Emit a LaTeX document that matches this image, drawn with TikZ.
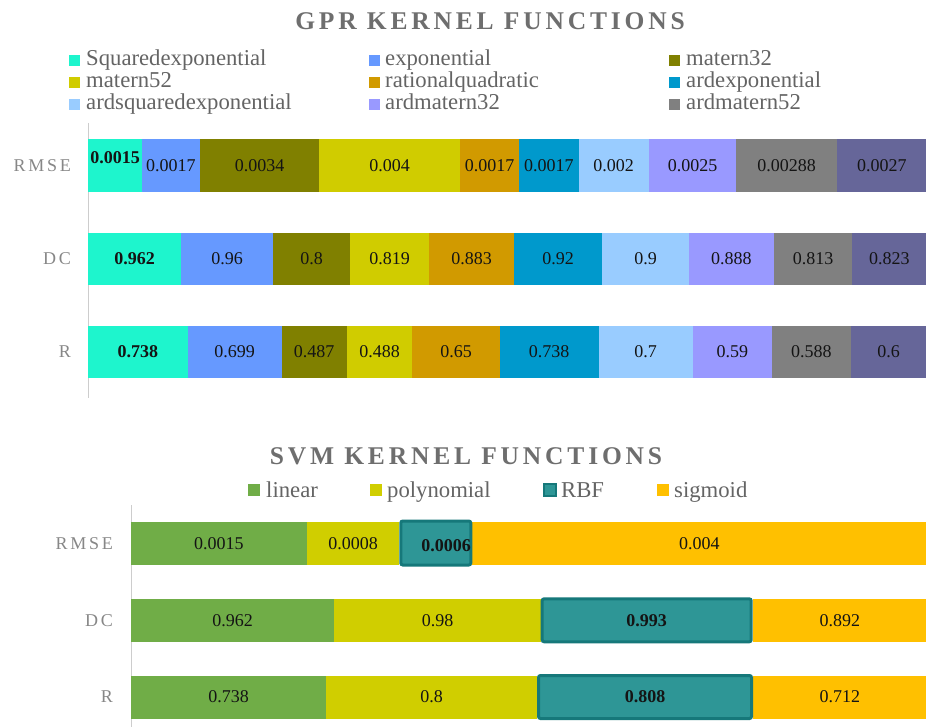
\documentclass[tikz,border=0pt]{standalone}
\usepackage{fontspec}
\setmainfont{Liberation Serif}
\newfontfamily\spacedfont[LetterSpace=15]{Liberation Serif}

% series colours
\definecolor{cSqexp}{RGB}{30,245,205}
\definecolor{cExp}{RGB}{102,153,255}
\definecolor{cMat32}{RGB}{128,128,0}
\definecolor{cMat52}{RGB}{208,204,0}
\definecolor{cRatq}{RGB}{209,154,0}
\definecolor{cArdexp}{RGB}{0,153,204}
\definecolor{cArdsq}{RGB}{153,204,255}
\definecolor{cArdm32}{RGB}{153,153,255}
\definecolor{cArdm52}{RGB}{128,128,128}
\definecolor{cLast}{RGB}{102,102,153}
\definecolor{cLinear}{RGB}{112,173,71}
\definecolor{cPoly}{RGB}{208,206,0}
\definecolor{cRBF}{RGB}{46,150,150}
\definecolor{cRBFedge}{RGB}{22,120,122}
\definecolor{cSigmoid}{RGB}{255,192,0}
% text and axis colours
\definecolor{cTitle}{RGB}{110,110,110}
\definecolor{cCat}{RGB}{135,135,135}
\definecolor{cLeg}{RGB}{100,100,100}
\definecolor{cAxis}{RGB}{205,205,205}
\definecolor{cVal}{RGB}{20,20,20}

\tikzset{
  charttitle/.style={font=\spacedfont\fontsize{25.5}{28}\selectfont\bfseries, text=cTitle, inner sep=0pt},
  catlabel/.style={font=\spacedfont\fontsize{18}{20}\selectfont, text=cCat, anchor=east, inner sep=0pt},
  legtext/.style={font=\fontsize{22.7}{24}\selectfont, text=cLeg, anchor=base west, inner sep=0pt},
  legsq/.style={minimum size=11pt, inner sep=0pt, outer sep=0pt, draw=none},
  seg/.style={anchor=west, inner sep=0pt, outer sep=0pt, draw=none, text=cVal,
              font=\fontsize{18}{20}\selectfont},
  valtext/.style={inner sep=0pt, text=cVal, font=\fontsize{18}{20}\selectfont},
  rbfbox/.style={seg, fill=cRBF, draw=cRBFedge, line width=3pt, rounded corners=2pt},
  axisline/.style={draw=cAxis, line width=1pt},
}

\begin{document}
\begin{tikzpicture}[x=1pt, y=-1pt]
\useasboundingbox (0,0) rectangle (926,727);

% ---------------- GPR chart ----------------
\node[charttitle] (gtitle) at (490,21) {GPR KERNEL FUNCTIONS};

% legend (three columns)
\foreach \sx/\tx/\by/\c/\t [count=\i] in {
  74.5/86/66/cSqexp/Squaredexponential,
  374.5/385/66/cExp/exponential,
  674.5/686/66/cMat32/matern32,
  74.5/86/88/cMat52/matern52,
  374.5/385/88/cRatq/rationalquadratic,
  674.5/686/88/cArdexp/ardexponential,
  74.5/86/110/cArdsq/ardsquaredexponential,
  374.5/385/110/cArdm32/ardmatern32,
  674.5/686/110/cArdm52/ardmatern52}
{
  \node[legsq, fill=\c] (gls\i) at (\sx,\by-5.5) {};
  \node[legtext] (glt\i) at (\tx,\by) {\t};
}

% value axis
\coordinate (gaxtop) at (88,123);
\coordinate (gaxbot) at (88,398);
\draw[axisline] (gaxtop) -- (gaxbot);

% RMSE row
\foreach \a/\b/\c/\v [count=\i] in {
  88/141.7/cSqexp/{},
  141.7/200/cExp/0.0017,
  200/319/cMat32/0.0034,
  319/460/cMat52/0.004,
  460/519/cRatq/0.0017,
  519/578.7/cArdexp/0.0017,
  578.7/648.7/cArdsq/0.002,
  648.7/736.3/cArdm32/0.0025,
  736.3/837/cArdm52/0.00288,
  837/926.5/cLast/0.0027}
{
  \node[seg, fill=\c, minimum width={(\b-\a)*1pt}, minimum height=53pt] (grmse\i) at (\a,165.5) {\v};
}
\node[valtext, font=\fontsize{18}{20}\selectfont\bfseries] (grmsebest) at (115,158) {0.0015};

% DC row
\foreach \a/\b/\c/\v [count=\i] in {
  88/181/cSqexp/\textbf{0.962},
  181/273.3/cExp/0.96,
  273.3/350/cMat32/0.8,
  350/429/cMat52/0.819,
  429/514/cRatq/0.883,
  514/602.3/cArdexp/0.92,
  602.3/688.7/cArdsq/0.9,
  688.7/774/cArdm32/0.888,
  774/852.3/cArdm52/0.813,
  852.3/926.5/cLast/0.823}
{
  \node[seg, fill=\c, minimum width={(\b-\a)*1pt}, minimum height=52pt] (gdc\i) at (\a,259) {\v};
}

% R row
\foreach \a/\b/\c/\v [count=\i] in {
  88/187.7/cSqexp/\textbf{0.738},
  187.7/281.7/cExp/0.699,
  281.7/346.7/cMat32/0.487,
  346.7/412.3/cMat52/0.488,
  412.3/499.7/cRatq/0.65,
  499.7/598.7/cArdexp/0.738,
  598.7/692.7/cArdsq/0.7,
  692.7/772/cArdm32/0.59,
  772/850.7/cArdm52/0.588,
  850.7/926.5/cLast/0.6}
{
  \node[seg, fill=\c, minimum width={(\b-\a)*1pt}, minimum height=52pt] (gr\i) at (\a,352) {\v};
}

% category labels
\node[catlabel] (glrmse) at (71,165.5) {RMSE};
\node[catlabel] (gldc) at (71,259) {DC};
\node[catlabel] (glr) at (71,352) {R};

% ---------------- SVM chart ----------------
\node[charttitle] (stitle) at (466,456) {SVM KERNEL FUNCTIONS};

% legend (one row)
\node[legsq, fill=cLinear, minimum size=12pt] (sls1) at (254,490) {};
\node[legtext] (slt1) at (266,497.7) {linear};
\node[legsq, fill=cPoly, minimum size=12pt] (sls2) at (376,490) {};
\node[legtext] (slt2) at (387,497.7) {polynomial};
\node[legsq, fill=cRBF, draw=cRBFedge, line width=2pt, minimum size=12pt] (sls3) at (550,490) {};
\node[legtext] (slt3) at (561,497.7) {RBF};
\node[legsq, fill=cSigmoid, minimum size=12pt] (sls4) at (663,490) {};
\node[legtext] (slt4) at (674,497.7) {sigmoid};

% value axis
\coordinate (saxtop) at (131,505);
\coordinate (saxbot) at (131,727);
\draw[axisline] (saxtop) -- (saxbot);

% plain segments: linear, polynomial, sigmoid
\foreach \a/\b/\yc/\c/\v/\n in {
  131/306.7/543.3/cLinear/0.0015/srmse1,
  306.7/399.3/543.3/cPoly/0.0008/srmse2,
  472/926.5/543.3/cSigmoid/0.004/srmse4,
  131/334.3/620.3/cLinear/0.962/sdc1,
  334.3/540.7/620.3/cPoly/0.98/sdc2,
  753/926.5/620.3/cSigmoid/0.892/sdc4,
  131/326/697/cLinear/0.738/sr1,
  326/537/697/cPoly/0.8/sr2,
  753/926.5/697/cSigmoid/0.712/sr4}
{
  \node[seg, fill=\c, minimum width={(\b-\a)*1pt}, minimum height=43pt] (\n) at (\a,\yc) {\v};
}

% highlighted RBF segments
\node[rbfbox, minimum width=70pt, minimum height=44pt] (srmse3) at (400.8,543) {};
\node[valtext, font=\fontsize{18}{20}\selectfont\bfseries] (srmsebest) at (446,546) {0.0006};
\node[rbfbox, minimum width=209pt, minimum height=43pt, font=\fontsize{18}{20}\selectfont\bfseries] (sdc3) at (542.2,620.3) {0.993};
\node[rbfbox, minimum width=213pt, minimum height=43pt, font=\fontsize{18}{20}\selectfont\bfseries] (sr3) at (538.5,697) {0.808};

% category labels
\node[catlabel] (slrmse) at (113,543.3) {RMSE};
\node[catlabel] (sldc) at (113,620.3) {DC};
\node[catlabel] (slr) at (113,697) {R};
\end{tikzpicture}
\end{document}
